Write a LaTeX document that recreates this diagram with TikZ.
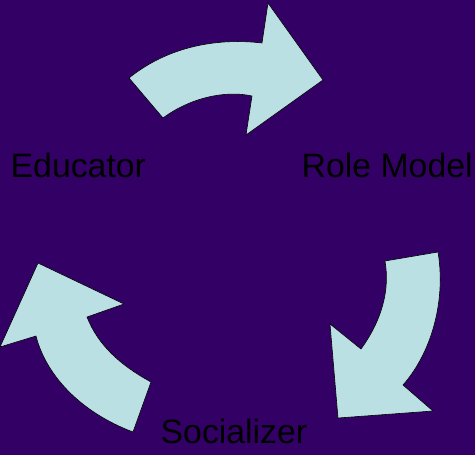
\documentclass[tikz,border=0pt]{standalone}
\usepackage{fontspec}
\setmainfont{Liberation Sans}
\definecolor{bgpurple}{HTML}{330066}
\definecolor{arrowfill}{HTML}{BAE0E3}
\begin{document}
\begin{tikzpicture}[x=1pt,y=-1pt,
  cyclearrow/.style={fill=arrowfill,draw=black,line width=0.6pt,line join=miter},
  label/.style={anchor=base west,inner sep=0pt,text=black,font=\fontsize{33.8}{40}\selectfont}]
  % background
  \fill[bgpurple] (0,0) rectangle (475,455);
  \useasboundingbox (0,0) rectangle (475,455);

  % top arrow: Educator -> Role Model
  \path[cyclearrow] (129,78) .. controls (170,45) and (220,38) .. (262,43)
    -- (268,3) -- (323,80) -- (246,135) -- (252,96)
    .. controls (225,90) and (190,98) .. (163,118) -- cycle;

  % right arrow: Role Model -> Socializer
  \path[cyclearrow] (385,261) -- (438,252)
    .. controls (446,300) and (432,352) .. (403,385)
    -- (433,411) -- (338,418) -- (330,324) -- (361,349)
    .. controls (382,320) and (390,290) .. (385,261) -- cycle;

  % left arrow: Socializer -> Educator
  \path[cyclearrow] (133,432) -- (151,382)
    .. controls (120,365) and (98,345) .. (87,317)
    -- (124,304) -- (38,263) -- (0,347) -- (36,336)
    .. controls (46,375) and (80,412) .. (133,432) -- cycle;

  % labels
  \node[label] (educator) at (10.5,177) {Educator};
  \node[label] (rolemodel) at (301.5,177) {Role Model};
  \node[label] (socializer) at (160.5,443) {Socializer};
\end{tikzpicture}
\end{document}
